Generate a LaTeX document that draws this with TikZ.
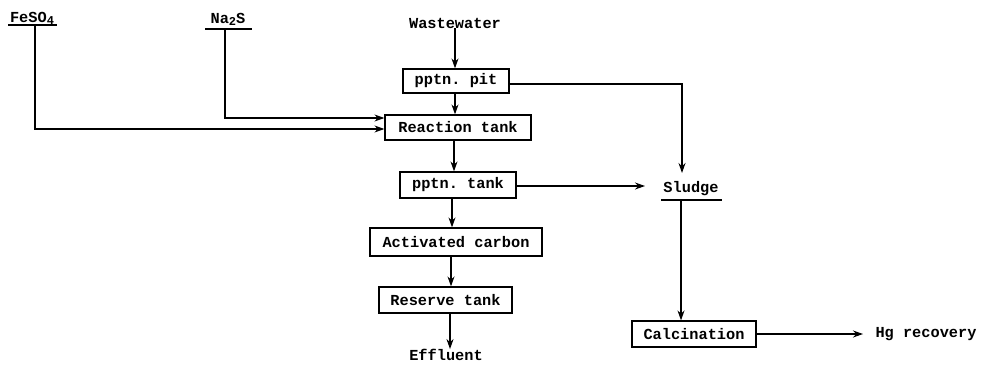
\documentclass[tikz,border=0pt]{standalone}
\usepackage{fontspec}
\setmonofont{Liberation Mono}
\usetikzlibrary{arrows.meta}
\newcommand{\sbs}[1]{{\fontsize{12}{12}\selectfont\raisebox{-2pt}{#1}}}
\begin{document}
\begin{tikzpicture}[x=1pt,y=-1pt,
  every node/.style={font=\ttfamily\bfseries\fontsize{15.3}{18}\selectfont},
  box/.style={draw,line width=1.2pt,inner sep=0pt,minimum height=25pt},
  lbl/.style={inner sep=0pt},
  arr/.style={line width=1.2pt,-{Stealth[length=10pt,width=7pt]}},
  ln/.style={line width=1.2pt}]
\useasboundingbox (0,0) rectangle (981,367);
% labels
\node[lbl] (fe) at (32,18) {FeSO\sbs{4}};
\node[lbl] (na) at (228,19) {Na\sbs{2}S};
\node[lbl] (ww) at (455,23) {Wastewater};
\node[lbl] (sl) at (691,189) {Sludge};
\node[lbl] (ef) at (446,355) {Effluent};
\node[lbl] (hg) at (926,334) {Hg recovery};
% underlines
\draw[ln] (8,25) -- (57,25);
\draw[ln] (205,29) -- (252,29);
\draw[ln] (661,200) -- (722,200);
% boxes
\node[box,minimum width=106pt,minimum height=24pt] (pit) at (456,81) {pptn. pit};
\node[box,minimum width=146pt] (rt) at (458,127.5) {Reaction tank};
\node[box,minimum width=116pt,minimum height=26pt] (pt) at (458,185) {pptn. tank};
\node[box,minimum width=172pt,minimum height=28pt] (ac) at (456,242) {Activated carbon};
\node[box,minimum width=133pt,minimum height=26pt] (rs) at (445.5,300) {Reserve tank};
\node[box,minimum width=124pt,minimum height=26pt] (ca) at (694,334) {Calcination};
% coordinates
\coordinate (feS) at (35,25);
\coordinate (naS) at (225,29);
\coordinate (slT) at (682,173);
\coordinate (slB) at (681,200);
\coordinate (slL) at (645,186);
\coordinate (hgL) at (863,334);
% connectors
\draw[arr] (feS) |- (rt.west |- 0,129);
\draw[arr] (naS) |- (rt.west |- 0,118);
\draw[arr] (ww.south -| 455,0) -- (pit.north -| 455,0);
\draw[arr] (pit.south -| 455,0) -- (rt.north -| 455,0);
\draw[arr] (pit.east |- 0,84) -| (slT);
\draw[arr] (rt.south -| 454,0) -- (pt.north -| 454,0);
\draw[arr] (pt.east |- slL) -- (slL);
\draw[arr] (pt.south -| 452,0) -- (ac.north -| 452,0);
\draw[arr] (ac.south -| 451,0) -- (rs.north -| 451,0);
\draw[arr] (rs.south -| 450,0) -- (ef.north -| 450,0);
\draw[arr] (slB) -- (ca.north -| 681,0);
\draw[arr] (ca.east) -- (hgL);
\end{tikzpicture}
\end{document}
